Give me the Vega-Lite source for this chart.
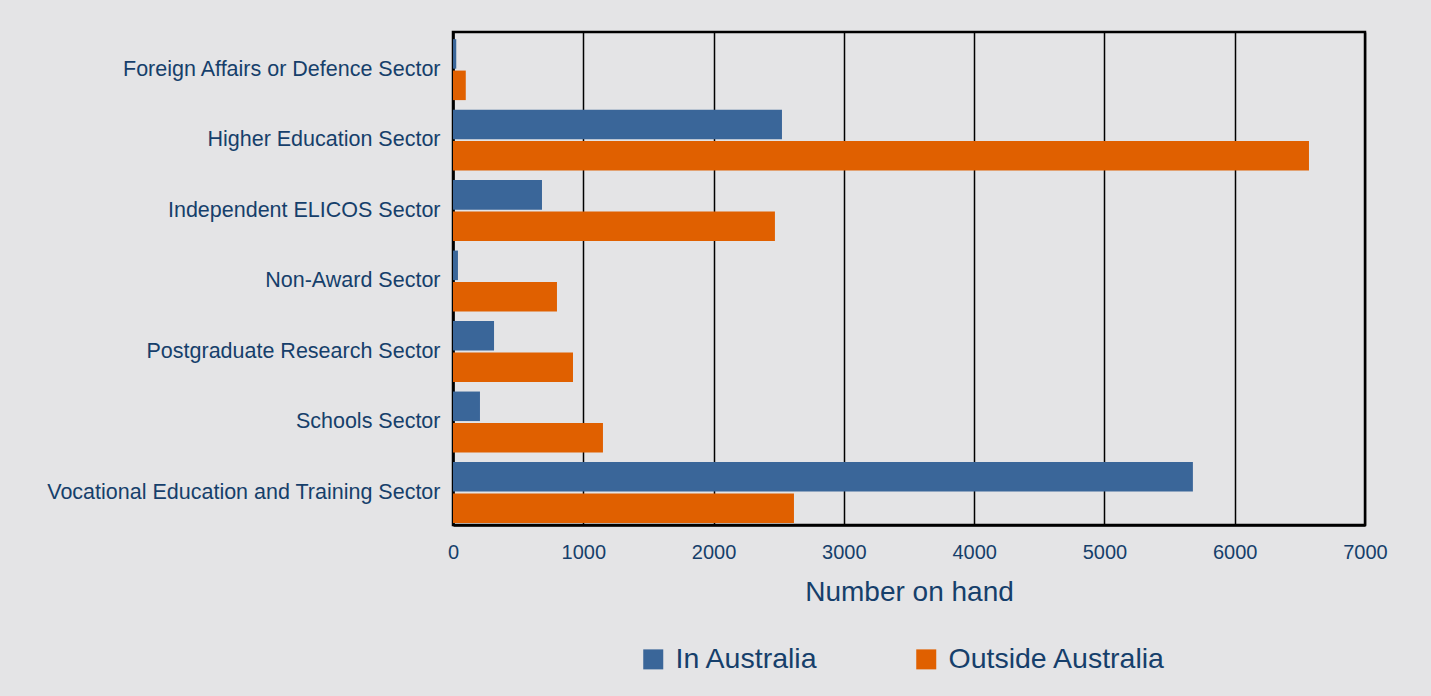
{
  "$schema": "https://vega.github.io/schema/vega-lite/v6.json",
  "autosize": {"type": "none"},
  "width": 912,
  "height": 493,
  "padding": {"left": 453, "top": 32, "right": 66, "bottom": 171},
  "background": "#e4e4e6",
  "data": {"values": [
    {"sector": "Foreign Affairs or Defence Sector", "location": "In Australia", "count": 25},
    {"sector": "Foreign Affairs or Defence Sector", "location": "Outside Australia", "count": 98},
    {"sector": "Higher Education Sector", "location": "In Australia", "count": 2525},
    {"sector": "Higher Education Sector", "location": "Outside Australia", "count": 6570},
    {"sector": "Independent ELICOS Sector", "location": "In Australia", "count": 683},
    {"sector": "Independent ELICOS Sector", "location": "Outside Australia", "count": 2471},
    {"sector": "Non-Award Sector", "location": "In Australia", "count": 38},
    {"sector": "Non-Award Sector", "location": "Outside Australia", "count": 798},
    {"sector": "Postgraduate Research Sector", "location": "In Australia", "count": 315},
    {"sector": "Postgraduate Research Sector", "location": "Outside Australia", "count": 921},
    {"sector": "Schools Sector", "location": "In Australia", "count": 207},
    {"sector": "Schools Sector", "location": "Outside Australia", "count": 1151},
    {"sector": "Vocational Education and Training Sector", "location": "In Australia", "count": 5679},
    {"sector": "Vocational Education and Training Sector", "location": "Outside Australia", "count": 2617}
  ]},
  "mark": {"type": "bar"},
  "encoding": {
    "y": {
      "field": "sector", "type": "nominal", "sort": null,
      "scale": {"paddingInner": 0.135, "paddingOuter": 0.065, "align": 0.78},
      "axis": {"title": null, "ticks": false, "labelPadding": 13, "labelFontSize": 21.5, "labelFont": "Liberation Sans", "labelColor": "#163f6b", "domainColor": "#000000", "domainWidth": 2.5, "labelLimit": 500}
    },
    "yOffset": {"field": "location", "type": "nominal", "scale": {"paddingInner": 0.06}},
    "x": {
      "field": "count", "type": "quantitative",
      "scale": {"domain": [0, 7000], "nice": false},
      "axis": {"title": "Number on hand", "values": [0,1000,2000,3000,4000,5000,6000,7000], "format": "d", "labelFlush": false, "labelAlign": "center", "ticks": false, "labelPadding": 17, "labelFontSize": 20, "labelFont": "Liberation Sans", "labelColor": "#163f6b", "titleFont": "Liberation Sans", "titleFontSize": 28, "titleFontWeight": "normal", "titleColor": "#163f6b", "titlePadding": 16, "grid": true, "gridColor": "#000000", "gridWidth": 1.5, "gridOpacity": 1, "domainColor": "#000000", "domainWidth": 2.5}
    },
    "color": {
      "field": "location", "type": "nominal",
      "scale": {"domain": ["In Australia", "Outside Australia"], "range": ["#3a6699", "#e06000"]},
      "legend": {"title": null, "orient": "none", "legendX": 186, "legendY": 613, "direction": "horizontal", "symbolType": "square", "symbolSize": 400, "symbolStrokeWidth": 0, "symbolOpacity": 1, "labelFontSize": 28.5, "labelFont": "Liberation Sans", "labelColor": "#163f6b", "labelOffset": 8, "labelLimit": 400, "columnPadding": 93}
    }
  },
  "config": {"view": {"stroke": "#000000", "strokeWidth": 2.5}}
}
